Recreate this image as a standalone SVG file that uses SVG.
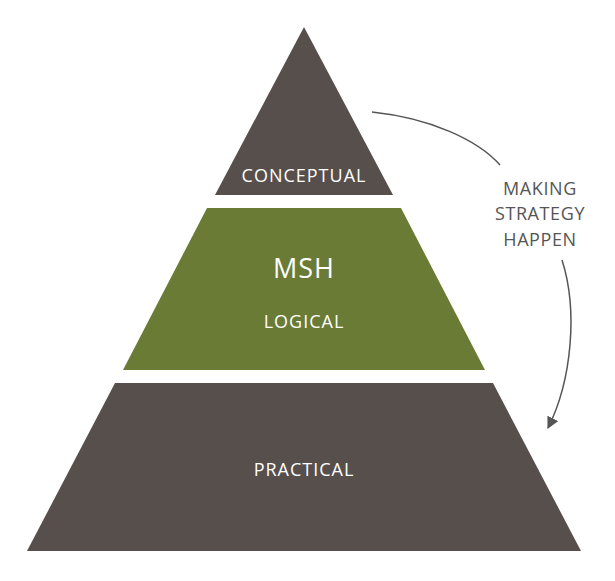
<svg xmlns="http://www.w3.org/2000/svg" width="615" height="581" viewBox="0 0 615 581">
<style>
.d{fill:#574f4b}.g{fill:#6a7b35}
text{font-family:"Open Sans","Liberation Sans",sans-serif;fill:#fff;text-anchor:middle}
.s{font-size:18px;letter-spacing:1px}.l{fill:#555;font-size:18px;letter-spacing:0.6px}
</style>
<defs><marker id="a" viewBox="0 0 10 10" refX="9" refY="5" markerWidth="12" markerHeight="12" markerUnits="userSpaceOnUse" orient="auto"><path d="M0,0L10,5L0,10z" fill="#555"/></marker></defs>
<rect width="615" height="581" fill="#fff"/>
<g id="conceptual"><path class="d" d="M304,27L393,195L215,195z"/><text class="s" x="304" y="182">CONCEPTUAL</text></g>
<g id="logical"><path class="g" d="M207,208L401,208L485,370L123,370z"/><text x="304" y="278" font-size="27" letter-spacing="1">MSH</text><text class="s" x="304" y="328">LOGICAL</text></g>
<g id="practical"><path class="d" d="M115,383L493,383L581,551L27,551z"/><text class="s" x="304" y="476">PRACTICAL</text></g>
<g id="connectors"><path d="M372,112C430,118 478,140 500,165" fill="none" stroke="#555" stroke-width="1.5"/><path d="M562,260C578,310 572,380 548,428" fill="none" stroke="#555" stroke-width="1.5" marker-end="url(#a)"/></g>
<g id="label"><text class="l" x="540" y="195">MAKING</text><text class="l" x="540" y="220">STRATEGY</text><text class="l" x="540" y="246">HAPPEN</text></g>
</svg>
